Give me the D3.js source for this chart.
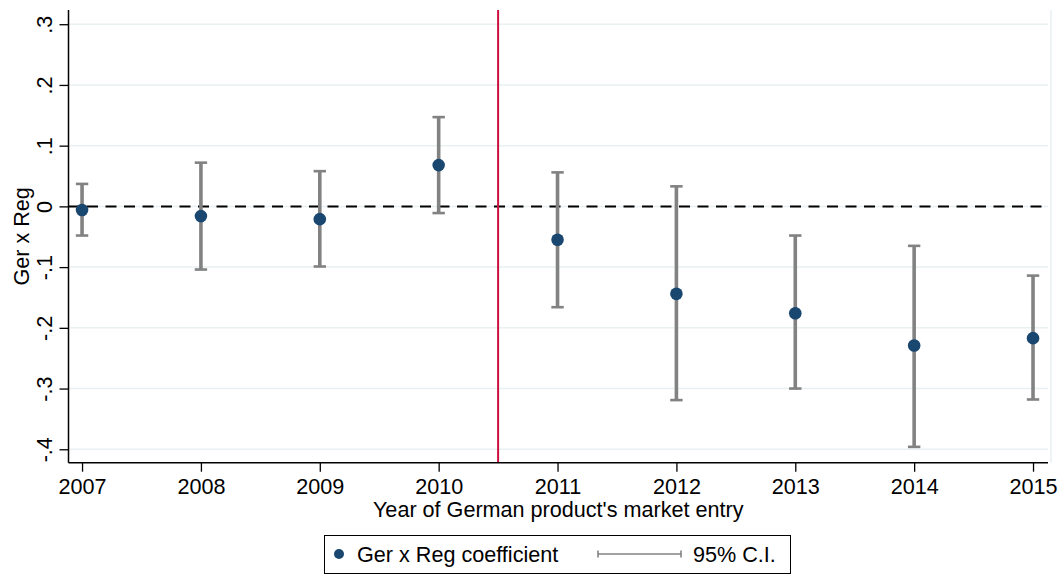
<!DOCTYPE html>
<html>
<head>
<meta charset="utf-8">
<script src="https://cdn.jsdelivr.net/npm/d3@7"></script>
<style>
  html, body { margin: 0; padding: 0; background: #fff; }
  svg { display: block; }
  text { font-family: "Liberation Sans", Arial, Helvetica, sans-serif; fill: #000; }
</style>
</head>
<body>
<svg id="chart" width="1058" height="584"></svg>
<script>
// ---- data ----
const years = [2007, 2008, 2009, 2010, 2011, 2012, 2013, 2014, 2015];
const coef  = [-0.006, -0.016, -0.021, 0.068, -0.055, -0.144, -0.176, -0.229, -0.217];
const upper = [0.037, 0.072, 0.058, 0.147, 0.056, 0.033, -0.048, -0.065, -0.114];
const lower = [-0.048, -0.104, -0.099, -0.011, -0.166, -0.319, -0.300, -0.396, -0.318];
const yTicks = [0.3, 0.2, 0.1, 0, -0.1, -0.2, -0.3, -0.4];
const yTickLabels = [".3", ".2", ".1", "0", "-.1", "-.2", "-.3", "-.4"];
const xTickLabels = ["2007", "2008", "2009", "2010", "2011", "2012", "2013", "2014", "2015"];
const treatmentBreak = 2010.5;
const xTitle = "Year of German product's market entry";
const yTitle = "Ger x Reg";
const legendLabels = ["Ger x Reg coefficient", "95% C.I."];

// ---- layout ----
const svg = d3.select("#chart");
const plot = { left: 68.5, right: 1048, top: 10, bottom: 462.7 };
const x = d3.scaleLinear().domain([2006.886, 2015.126]).range([plot.left, plot.right]);
const y = d3.scaleLinear().domain([-0.4221, 0.3234]).range([plot.bottom, plot.top]);

const navy = "#1a476f", gray = "#828282", grid = "#e9f0f2", red = "#cc1040";
const fs = 21.6;

// gridlines
svg.append("g").selectAll("line").data(yTicks).join("line")
  .attr("x1", plot.left).attr("x2", plot.right)
  .attr("y1", d => y(d)).attr("y2", d => y(d))
  .attr("stroke", grid).attr("stroke-width", 1.5);

// faint right border
svg.append("line")
  .attr("x1", 1051).attr("x2", 1051).attr("y1", plot.top).attr("y2", plot.bottom)
  .attr("stroke", grid).attr("stroke-width", 1.5);

// zero dashed line
svg.append("line")
  .attr("x1", plot.left).attr("x2", plot.right)
  .attr("y1", y(0)).attr("y2", y(0))
  .attr("stroke", "#000").attr("stroke-width", 2)
  .attr("stroke-dasharray", "11,7.5");

// vertical treatment line
svg.append("line")
  .attr("x1", x(treatmentBreak)).attr("x2", x(treatmentBreak))
  .attr("y1", plot.top).attr("y2", plot.bottom)
  .attr("stroke", red).attr("stroke-width", 2);

// CI bars
const ci = svg.append("g");
years.forEach((yr, i) => {
  const cx = x(yr);
  ci.append("line").attr("x1", cx).attr("x2", cx)
    .attr("y1", y(upper[i])).attr("y2", y(lower[i]))
    .attr("stroke", gray).attr("stroke-width", 3.6);
  [upper[i], lower[i]].forEach(v => {
    ci.append("line").attr("x1", cx - 6.2).attr("x2", cx + 6.2)
      .attr("y1", y(v)).attr("y2", y(v))
      .attr("stroke", gray).attr("stroke-width", 2.6);
  });
});

// points
svg.append("g").selectAll("circle").data(years).join("circle")
  .attr("cx", d => x(d)).attr("cy", (d, i) => y(coef[i]))
  .attr("r", 6.3).attr("fill", navy);

// axes
const yAxis = d3.axisLeft(y).tickValues(yTicks).tickSize(9)
  .tickFormat((d, i) => yTickLabels[i]);
const gy = svg.append("g").attr("transform", `translate(${plot.left},0)`).call(yAxis);
gy.select(".domain").attr("d", `M0,${plot.top}V${plot.bottom}`).attr("stroke", "#000").attr("stroke-width", 1.5);
gy.selectAll(".tick line").attr("stroke", "#000").attr("stroke-width", 1.3);
gy.selectAll(".tick text")
  .attr("font-size", fs).attr("fill", "#000")
  .attr("text-anchor", "middle")
  .attr("x", null).attr("dy", null)
  .attr("transform", "translate(-16.5,0) rotate(-90)");

const xAxis = d3.axisBottom(x).tickValues(years).tickSize(9)
  .tickFormat((d, i) => xTickLabels[i]);
const gx = svg.append("g").attr("transform", `translate(0,${plot.bottom})`).call(xAxis);
gx.select(".domain").attr("d", `M${plot.left},0H${plot.right}`).attr("stroke", "#000").attr("stroke-width", 1.5);
gx.selectAll(".tick line").attr("stroke", "#000").attr("stroke-width", 1.3);
gx.selectAll(".tick text")
  .attr("font-size", fs).attr("fill", "#000")
  .attr("y", 31.5).attr("dy", null);

// axis titles
svg.append("text")
  .attr("x", (plot.left + plot.right) / 2).attr("y", 517)
  .attr("text-anchor", "middle").attr("font-size", fs).text(xTitle);
svg.append("text")
  .attr("transform", `translate(28.5,${(plot.top + plot.bottom) / 2}) rotate(-90)`)
  .attr("text-anchor", "middle").attr("font-size", fs).text(yTitle);

// legend
const lg = svg.append("g");
lg.append("rect").attr("x", 324.5).attr("y", 535.5).attr("width", 466).attr("height", 38)
  .attr("fill", "#fff").attr("stroke", "#000").attr("stroke-width", 1);
lg.append("circle").attr("cx", 339).attr("cy", 554).attr("r", 5).attr("fill", navy);
lg.append("text").attr("x", 357).attr("y", 562).attr("font-size", fs).text(legendLabels[0]);
lg.append("line").attr("x1", 598).attr("x2", 681).attr("y1", 554).attr("y2", 554)
  .attr("stroke", gray).attr("stroke-width", 1.6);
[598, 681].forEach(px => lg.append("line").attr("x1", px).attr("x2", px)
  .attr("y1", 550.5).attr("y2", 557.5).attr("stroke", gray).attr("stroke-width", 1.6));
lg.append("text").attr("x", 693).attr("y", 562).attr("font-size", fs).text(legendLabels[1]);
</script>
</body>
</html>
